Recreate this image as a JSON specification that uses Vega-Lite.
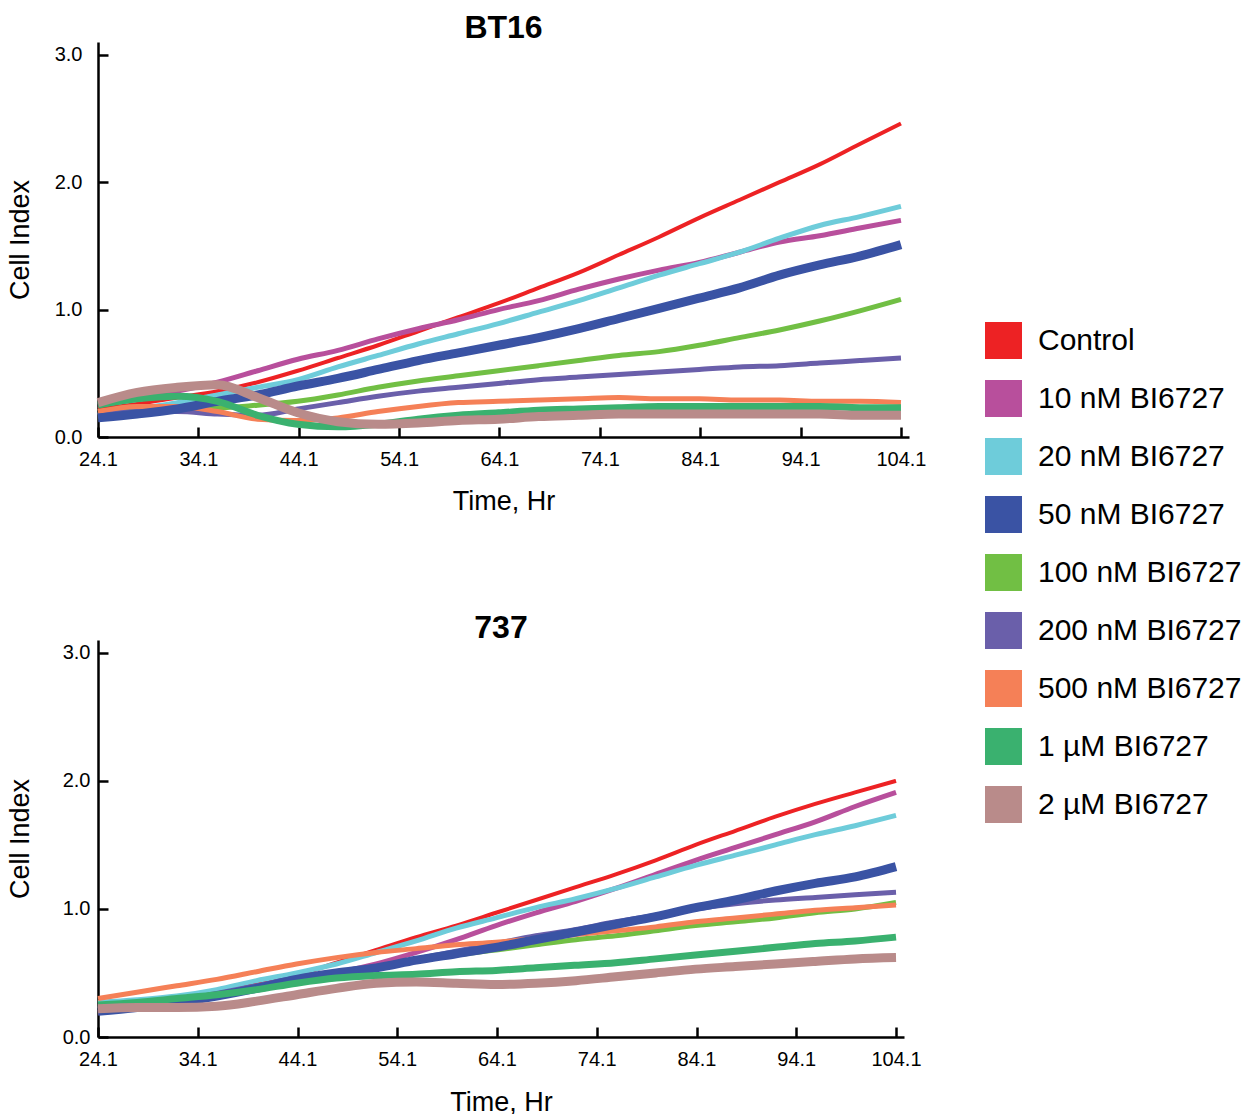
{
  "$schema": "https://vega.github.io/schema/vega-lite/v6.json",
  "padding": {"left": 6, "top": 12, "right": 0, "bottom": 0},
  "background": "white",
  "config": {
    "font": "Liberation Sans",
    "view": {"stroke": null},
    "axis": {
      "grid": false,
      "domainColor": "black",
      "domainWidth": 2.5,
      "tickColor": "black",
      "tickWidth": 2.5,
      "tickSize": -10,
      "labelFlush": false,
      "labelOverlap": false,
      "labelFont": "Liberation Sans",
      "labelFontSize": 20,
      "labelColor": "black",
      "titleFont": "Liberation Sans",
      "titleFontSize": 27,
      "titleFontWeight": "normal",
      "titleColor": "black"
    },
    "title": {"font": "Liberation Sans", "fontSize": 32, "fontWeight": "bold", "color": "black", "anchor": "middle"}
  },
  "data": {
    "values": [
      {"cell": "BT16", "hr": 24.1, "Control": 0.22, "10 nM BI6727": 0.25, "20 nM BI6727": 0.17, "50 nM BI6727": 0.15, "100 nM BI6727": 0.2, "200 nM BI6727": 0.17, "500 nM BI6727": 0.2, "1 µM BI6727": 0.25, "2 µM BI6727": 0.27},
      {"cell": "BT16", "hr": 28, "Control": 0.26, "10 nM BI6727": 0.3, "20 nM BI6727": 0.22, "50 nM BI6727": 0.18, "100 nM BI6727": 0.22, "200 nM BI6727": 0.2, "500 nM BI6727": 0.24, "1 µM BI6727": 0.3, "2 µM BI6727": 0.35},
      {"cell": "BT16", "hr": 32, "Control": 0.31, "10 nM BI6727": 0.36, "20 nM BI6727": 0.27, "50 nM BI6727": 0.22, "100 nM BI6727": 0.23, "200 nM BI6727": 0.2, "500 nM BI6727": 0.24, "1 µM BI6727": 0.32, "2 µM BI6727": 0.39},
      {"cell": "BT16", "hr": 36, "Control": 0.36, "10 nM BI6727": 0.43, "20 nM BI6727": 0.33, "50 nM BI6727": 0.28, "100 nM BI6727": 0.23, "200 nM BI6727": 0.18, "500 nM BI6727": 0.2, "1 µM BI6727": 0.28, "2 µM BI6727": 0.41},
      {"cell": "BT16", "hr": 40, "Control": 0.43, "10 nM BI6727": 0.52, "20 nM BI6727": 0.39, "50 nM BI6727": 0.33, "100 nM BI6727": 0.25, "200 nM BI6727": 0.17, "500 nM BI6727": 0.14, "1 µM BI6727": 0.17, "2 µM BI6727": 0.31},
      {"cell": "BT16", "hr": 44, "Control": 0.52, "10 nM BI6727": 0.61, "20 nM BI6727": 0.45, "50 nM BI6727": 0.4, "100 nM BI6727": 0.28, "200 nM BI6727": 0.22, "500 nM BI6727": 0.13, "1 µM BI6727": 0.1, "2 µM BI6727": 0.19},
      {"cell": "BT16", "hr": 48, "Control": 0.62, "10 nM BI6727": 0.68, "20 nM BI6727": 0.55, "50 nM BI6727": 0.46, "100 nM BI6727": 0.33, "200 nM BI6727": 0.27, "500 nM BI6727": 0.15, "1 µM BI6727": 0.08, "2 µM BI6727": 0.12},
      {"cell": "BT16", "hr": 52, "Control": 0.72, "10 nM BI6727": 0.77, "20 nM BI6727": 0.64, "50 nM BI6727": 0.53, "100 nM BI6727": 0.39, "200 nM BI6727": 0.32, "500 nM BI6727": 0.2, "1 µM BI6727": 0.1, "2 µM BI6727": 0.1},
      {"cell": "BT16", "hr": 56, "Control": 0.83, "10 nM BI6727": 0.85, "20 nM BI6727": 0.73, "50 nM BI6727": 0.6, "100 nM BI6727": 0.44, "200 nM BI6727": 0.36, "500 nM BI6727": 0.24, "1 µM BI6727": 0.14, "2 µM BI6727": 0.11},
      {"cell": "BT16", "hr": 60, "Control": 0.94, "10 nM BI6727": 0.92, "20 nM BI6727": 0.81, "50 nM BI6727": 0.66, "100 nM BI6727": 0.48, "200 nM BI6727": 0.39, "500 nM BI6727": 0.27, "1 µM BI6727": 0.17, "2 µM BI6727": 0.13},
      {"cell": "BT16", "hr": 64, "Control": 1.05, "10 nM BI6727": 1.0, "20 nM BI6727": 0.89, "50 nM BI6727": 0.72, "100 nM BI6727": 0.52, "200 nM BI6727": 0.42, "500 nM BI6727": 0.28, "1 µM BI6727": 0.19, "2 µM BI6727": 0.14},
      {"cell": "BT16", "hr": 68, "Control": 1.17, "10 nM BI6727": 1.07, "20 nM BI6727": 0.98, "50 nM BI6727": 0.78, "100 nM BI6727": 0.56, "200 nM BI6727": 0.45, "500 nM BI6727": 0.29, "1 µM BI6727": 0.21, "2 µM BI6727": 0.16},
      {"cell": "BT16", "hr": 72, "Control": 1.29, "10 nM BI6727": 1.16, "20 nM BI6727": 1.07, "50 nM BI6727": 0.85, "100 nM BI6727": 0.6, "200 nM BI6727": 0.47, "500 nM BI6727": 0.3, "1 µM BI6727": 0.22, "2 µM BI6727": 0.17},
      {"cell": "BT16", "hr": 76, "Control": 1.43, "10 nM BI6727": 1.24, "20 nM BI6727": 1.17, "50 nM BI6727": 0.93, "100 nM BI6727": 0.64, "200 nM BI6727": 0.49, "500 nM BI6727": 0.31, "1 µM BI6727": 0.23, "2 µM BI6727": 0.18},
      {"cell": "BT16", "hr": 80, "Control": 1.57, "10 nM BI6727": 1.31, "20 nM BI6727": 1.27, "50 nM BI6727": 1.01, "100 nM BI6727": 0.67, "200 nM BI6727": 0.51, "500 nM BI6727": 0.3, "1 µM BI6727": 0.24, "2 µM BI6727": 0.18},
      {"cell": "BT16", "hr": 84, "Control": 1.72, "10 nM BI6727": 1.37, "20 nM BI6727": 1.36, "50 nM BI6727": 1.09, "100 nM BI6727": 0.72, "200 nM BI6727": 0.53, "500 nM BI6727": 0.3, "1 µM BI6727": 0.24, "2 µM BI6727": 0.18},
      {"cell": "BT16", "hr": 88, "Control": 1.86, "10 nM BI6727": 1.45, "20 nM BI6727": 1.45, "50 nM BI6727": 1.17, "100 nM BI6727": 0.78, "200 nM BI6727": 0.55, "500 nM BI6727": 0.29, "1 µM BI6727": 0.24, "2 µM BI6727": 0.18},
      {"cell": "BT16", "hr": 92, "Control": 2.0, "10 nM BI6727": 1.53, "20 nM BI6727": 1.56, "50 nM BI6727": 1.27, "100 nM BI6727": 0.84, "200 nM BI6727": 0.56, "500 nM BI6727": 0.29, "1 µM BI6727": 0.24, "2 µM BI6727": 0.18},
      {"cell": "BT16", "hr": 96, "Control": 2.14, "10 nM BI6727": 1.58, "20 nM BI6727": 1.66, "50 nM BI6727": 1.35, "100 nM BI6727": 0.91, "200 nM BI6727": 0.58, "500 nM BI6727": 0.28, "1 µM BI6727": 0.24, "2 µM BI6727": 0.18},
      {"cell": "BT16", "hr": 100, "Control": 2.3, "10 nM BI6727": 1.64, "20 nM BI6727": 1.73, "50 nM BI6727": 1.42, "100 nM BI6727": 0.99, "200 nM BI6727": 0.6, "500 nM BI6727": 0.28, "1 µM BI6727": 0.23, "2 µM BI6727": 0.17},
      {"cell": "BT16", "hr": 104.1, "Control": 2.46, "10 nM BI6727": 1.7, "20 nM BI6727": 1.81, "50 nM BI6727": 1.51, "100 nM BI6727": 1.08, "200 nM BI6727": 0.62, "500 nM BI6727": 0.27, "1 µM BI6727": 0.23, "2 µM BI6727": 0.17},
      {"cell": "737", "hr": 24.1, "Control": 0.22, "10 nM BI6727": 0.19, "20 nM BI6727": 0.27, "50 nM BI6727": 0.2, "100 nM BI6727": 0.22, "200 nM BI6727": 0.22, "500 nM BI6727": 0.3, "1 µM BI6727": 0.25, "2 µM BI6727": 0.22},
      {"cell": "737", "hr": 28, "Control": 0.26, "10 nM BI6727": 0.23, "20 nM BI6727": 0.29, "50 nM BI6727": 0.23, "100 nM BI6727": 0.25, "200 nM BI6727": 0.25, "500 nM BI6727": 0.35, "1 µM BI6727": 0.27, "2 µM BI6727": 0.23},
      {"cell": "737", "hr": 32, "Control": 0.3, "10 nM BI6727": 0.27, "20 nM BI6727": 0.32, "50 nM BI6727": 0.27, "100 nM BI6727": 0.29, "200 nM BI6727": 0.28, "500 nM BI6727": 0.4, "1 µM BI6727": 0.3, "2 µM BI6727": 0.23},
      {"cell": "737", "hr": 36, "Control": 0.35, "10 nM BI6727": 0.32, "20 nM BI6727": 0.37, "50 nM BI6727": 0.32, "100 nM BI6727": 0.33, "200 nM BI6727": 0.34, "500 nM BI6727": 0.45, "1 µM BI6727": 0.33, "2 µM BI6727": 0.24},
      {"cell": "737", "hr": 40, "Control": 0.41, "10 nM BI6727": 0.38, "20 nM BI6727": 0.44, "50 nM BI6727": 0.38, "100 nM BI6727": 0.38, "200 nM BI6727": 0.4, "500 nM BI6727": 0.51, "1 µM BI6727": 0.37, "2 µM BI6727": 0.28},
      {"cell": "737", "hr": 44, "Control": 0.48, "10 nM BI6727": 0.44, "20 nM BI6727": 0.5, "50 nM BI6727": 0.45, "100 nM BI6727": 0.43, "200 nM BI6727": 0.46, "500 nM BI6727": 0.57, "1 µM BI6727": 0.42, "2 µM BI6727": 0.33},
      {"cell": "737", "hr": 48, "Control": 0.58, "10 nM BI6727": 0.5, "20 nM BI6727": 0.57, "50 nM BI6727": 0.5, "100 nM BI6727": 0.48, "200 nM BI6727": 0.5, "500 nM BI6727": 0.62, "1 µM BI6727": 0.46, "2 µM BI6727": 0.38},
      {"cell": "737", "hr": 52, "Control": 0.68, "10 nM BI6727": 0.57, "20 nM BI6727": 0.66, "50 nM BI6727": 0.54, "100 nM BI6727": 0.54, "200 nM BI6727": 0.55, "500 nM BI6727": 0.66, "1 µM BI6727": 0.48, "2 µM BI6727": 0.42},
      {"cell": "737", "hr": 56, "Control": 0.78, "10 nM BI6727": 0.66, "20 nM BI6727": 0.75, "50 nM BI6727": 0.6, "100 nM BI6727": 0.6, "200 nM BI6727": 0.61, "500 nM BI6727": 0.69, "1 µM BI6727": 0.49, "2 µM BI6727": 0.43},
      {"cell": "737", "hr": 60, "Control": 0.87, "10 nM BI6727": 0.76, "20 nM BI6727": 0.85, "50 nM BI6727": 0.65, "100 nM BI6727": 0.64, "200 nM BI6727": 0.67, "500 nM BI6727": 0.72, "1 µM BI6727": 0.51, "2 µM BI6727": 0.42},
      {"cell": "737", "hr": 64, "Control": 0.97, "10 nM BI6727": 0.87, "20 nM BI6727": 0.93, "50 nM BI6727": 0.7, "100 nM BI6727": 0.68, "200 nM BI6727": 0.73, "500 nM BI6727": 0.74, "1 µM BI6727": 0.52, "2 µM BI6727": 0.41},
      {"cell": "737", "hr": 68, "Control": 1.07, "10 nM BI6727": 0.97, "20 nM BI6727": 1.01, "50 nM BI6727": 0.76, "100 nM BI6727": 0.72, "200 nM BI6727": 0.79, "500 nM BI6727": 0.77, "1 µM BI6727": 0.54, "2 µM BI6727": 0.42},
      {"cell": "737", "hr": 72, "Control": 1.17, "10 nM BI6727": 1.06, "20 nM BI6727": 1.08, "50 nM BI6727": 0.82, "100 nM BI6727": 0.76, "200 nM BI6727": 0.84, "500 nM BI6727": 0.8, "1 µM BI6727": 0.56, "2 µM BI6727": 0.44},
      {"cell": "737", "hr": 76, "Control": 1.27, "10 nM BI6727": 1.16, "20 nM BI6727": 1.16, "50 nM BI6727": 0.88, "100 nM BI6727": 0.79, "200 nM BI6727": 0.9, "500 nM BI6727": 0.83, "1 µM BI6727": 0.58, "2 µM BI6727": 0.47},
      {"cell": "737", "hr": 80, "Control": 1.38, "10 nM BI6727": 1.27, "20 nM BI6727": 1.25, "50 nM BI6727": 0.94, "100 nM BI6727": 0.83, "200 nM BI6727": 0.95, "500 nM BI6727": 0.86, "1 µM BI6727": 0.61, "2 µM BI6727": 0.5},
      {"cell": "737", "hr": 84, "Control": 1.5, "10 nM BI6727": 1.38, "20 nM BI6727": 1.34, "50 nM BI6727": 1.01, "100 nM BI6727": 0.87, "200 nM BI6727": 1.0, "500 nM BI6727": 0.9, "1 µM BI6727": 0.64, "2 µM BI6727": 0.53},
      {"cell": "737", "hr": 88, "Control": 1.61, "10 nM BI6727": 1.48, "20 nM BI6727": 1.42, "50 nM BI6727": 1.07, "100 nM BI6727": 0.9, "200 nM BI6727": 1.04, "500 nM BI6727": 0.93, "1 µM BI6727": 0.67, "2 µM BI6727": 0.55},
      {"cell": "737", "hr": 92, "Control": 1.72, "10 nM BI6727": 1.58, "20 nM BI6727": 1.5, "50 nM BI6727": 1.14, "100 nM BI6727": 0.93, "200 nM BI6727": 1.07, "500 nM BI6727": 0.96, "1 µM BI6727": 0.7, "2 µM BI6727": 0.57},
      {"cell": "737", "hr": 96, "Control": 1.82, "10 nM BI6727": 1.68, "20 nM BI6727": 1.58, "50 nM BI6727": 1.2, "100 nM BI6727": 0.97, "200 nM BI6727": 1.09, "500 nM BI6727": 0.99, "1 µM BI6727": 0.73, "2 µM BI6727": 0.59},
      {"cell": "737", "hr": 100, "Control": 1.91, "10 nM BI6727": 1.8, "20 nM BI6727": 1.65, "50 nM BI6727": 1.25, "100 nM BI6727": 1.0, "200 nM BI6727": 1.11, "500 nM BI6727": 1.01, "1 µM BI6727": 0.75, "2 µM BI6727": 0.61},
      {"cell": "737", "hr": 104.1, "Control": 2.0, "10 nM BI6727": 1.91, "20 nM BI6727": 1.73, "50 nM BI6727": 1.33, "100 nM BI6727": 1.05, "200 nM BI6727": 1.13, "500 nM BI6727": 1.03, "1 µM BI6727": 0.78, "2 µM BI6727": 0.62}
    ]
  },
  "transform": [
    {"fold": ["Control", "10 nM BI6727", "20 nM BI6727", "50 nM BI6727", "100 nM BI6727", "200 nM BI6727", "500 nM BI6727", "1 µM BI6727", "2 µM BI6727"], "as": ["treatment", "ci"]}
  ],
  "spacing": 98,
  "vconcat": [
    {
      "title": {"text": "BT16", "offset": -3},
      "width": 811,
      "height": 395,
      "transform": [{"filter": "datum.cell === 'BT16'"}],
      "encoding": {
        "x": {"field": "hr", "type": "quantitative", "scale": {"domain": [24.1, 104.9], "nice": false, "zero": false},
              "axis": {"values": [24.1, 34.1, 44.1, 54.1, 64.1, 74.1, 84.1, 94.1, 104.1], "format": ".1f", "title": "Time, Hr", "labelPadding": 22, "titlePadding": 19}},
        "y": {"field": "ci", "type": "quantitative", "scale": {"domain": [0, 3.1], "nice": false},
              "axis": {"values": [0, 1, 2, 3], "format": ".1f", "title": "Cell Index", "labelPadding": 26, "titlePadding": 20}},
        "color": {"field": "treatment", "type": "nominal",
                  "scale": {"domain": ["Control", "10 nM BI6727", "20 nM BI6727", "50 nM BI6727", "100 nM BI6727", "200 nM BI6727", "500 nM BI6727", "1 µM BI6727", "2 µM BI6727"],
                            "range": ["#ED2224", "#B84F9C", "#6ECCDA", "#3A53A4", "#71BF44", "#6A5FAA", "#F58057", "#3AB16F", "#B98B8A"]},
                  "legend": {"title": null, "orient": "none", "legendX": 887, "legendY": 280, "symbolType": "square", "symbolSize": 1369, "symbolStrokeWidth": 0, "labelFontSize": 30, "labelFont": "Liberation Sans", "labelColor": "black", "labelOffset": 16, "rowPadding": 21, "labelLimit": 400,
                             "encode": {"symbols": {"update": {"fill": {"scale": "color", "field": "value"}, "stroke": {"value": "transparent"}, "strokeWidth": {"value": 0}, "opacity": {"value": 1}}}}}}
      },
      "layer": [
        {"transform": [{"filter": {"field": "treatment", "oneOf": ["Control"]}}], "mark": {"type": "line", "interpolate": "monotone", "strokeWidth": 4}},
        {"transform": [{"filter": {"field": "treatment", "oneOf": ["10 nM BI6727", "20 nM BI6727", "100 nM BI6727", "200 nM BI6727", "500 nM BI6727"]}}], "mark": {"type": "line", "interpolate": "monotone", "strokeWidth": 5}},
        {"transform": [{"filter": {"field": "treatment", "oneOf": ["50 nM BI6727"]}}], "mark": {"type": "line", "interpolate": "monotone", "strokeWidth": 9}},
        {"transform": [{"filter": {"field": "treatment", "oneOf": ["1 µM BI6727"]}}], "mark": {"type": "line", "interpolate": "monotone", "strokeWidth": 7}},
        {"transform": [{"filter": {"field": "treatment", "oneOf": ["2 µM BI6727"]}}], "mark": {"type": "line", "interpolate": "monotone", "strokeWidth": 9}}
      ]
    },
    {
      "title": {"text": "737", "offset": -5},
      "width": 806,
      "height": 397,
      "transform": [{"filter": "datum.cell === '737'"}],
      "encoding": {
        "x": {"field": "hr", "type": "quantitative", "scale": {"domain": [24.1, 104.9], "nice": false, "zero": false},
              "axis": {"values": [24.1, 34.1, 44.1, 54.1, 64.1, 74.1, 84.1, 94.1, 104.1], "format": ".1f", "title": "Time, Hr", "labelPadding": 22, "titlePadding": 20}},
        "y": {"field": "ci", "type": "quantitative", "scale": {"domain": [0, 3.1], "nice": false},
              "axis": {"values": [0, 1, 2, 3], "format": ".1f", "title": "Cell Index", "labelPadding": 18, "titlePadding": 28}},
        "color": {"field": "treatment", "type": "nominal"}
      },
      "layer": [
        {"transform": [{"filter": {"field": "treatment", "oneOf": ["Control"]}}], "mark": {"type": "line", "interpolate": "monotone", "strokeWidth": 4}},
        {"transform": [{"filter": {"field": "treatment", "oneOf": ["10 nM BI6727", "20 nM BI6727", "100 nM BI6727", "200 nM BI6727", "500 nM BI6727"]}}], "mark": {"type": "line", "interpolate": "monotone", "strokeWidth": 5}},
        {"transform": [{"filter": {"field": "treatment", "oneOf": ["50 nM BI6727"]}}], "mark": {"type": "line", "interpolate": "monotone", "strokeWidth": 9}},
        {"transform": [{"filter": {"field": "treatment", "oneOf": ["1 µM BI6727"]}}], "mark": {"type": "line", "interpolate": "monotone", "strokeWidth": 7}},
        {"transform": [{"filter": {"field": "treatment", "oneOf": ["2 µM BI6727"]}}], "mark": {"type": "line", "interpolate": "monotone", "strokeWidth": 9}}
      ]
    }
  ]
}
